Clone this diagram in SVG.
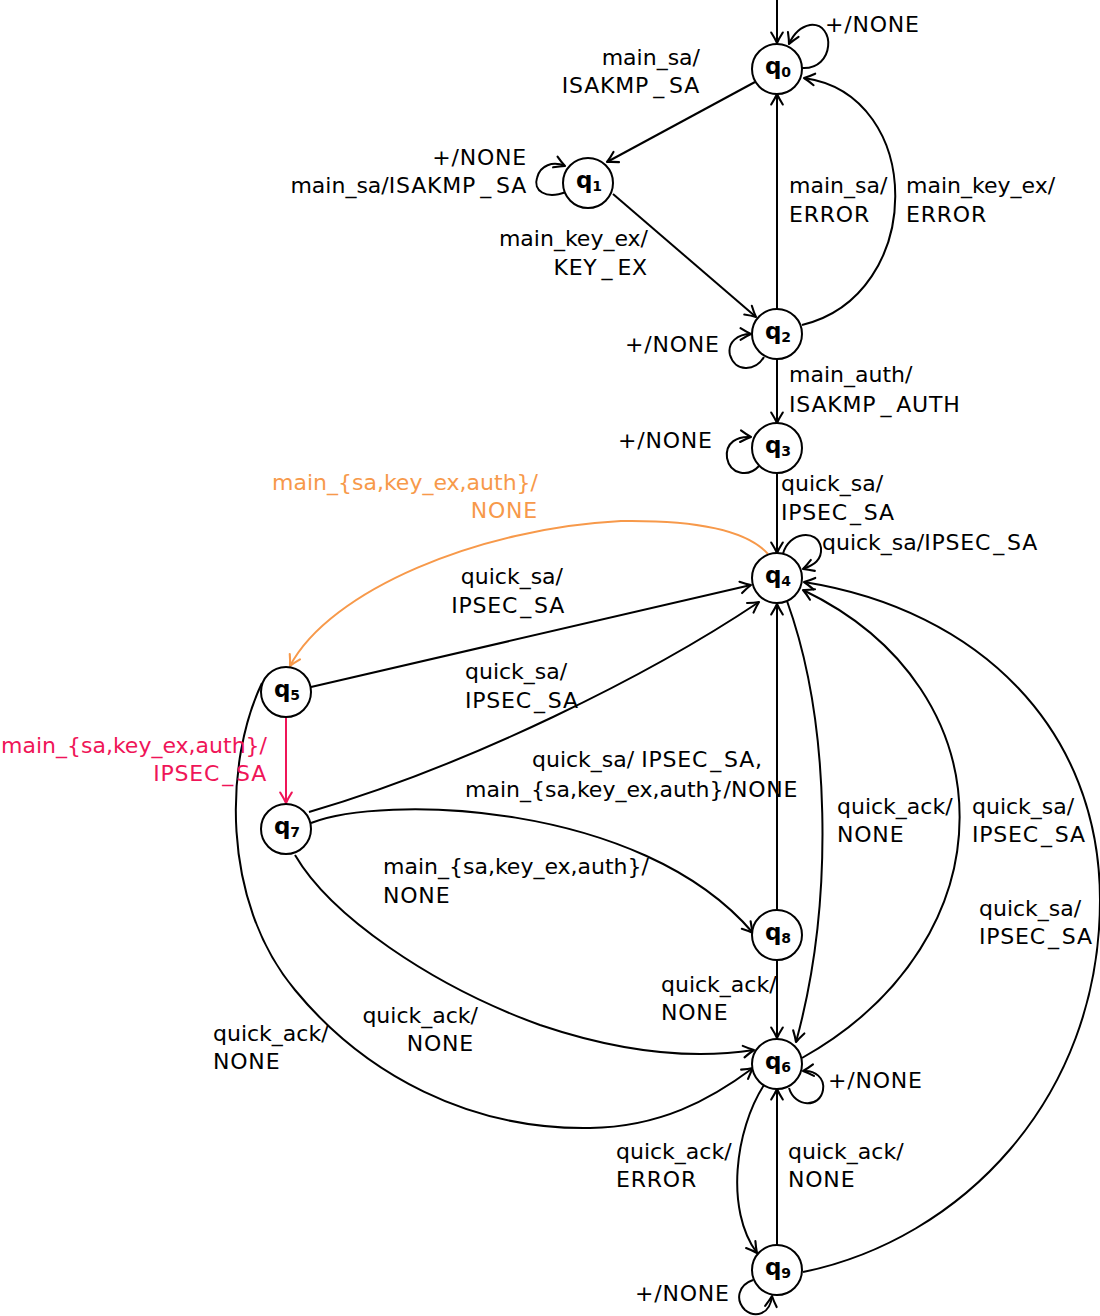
<svg xmlns="http://www.w3.org/2000/svg" width="1100" height="1316" viewBox="0 0 1100 1316">
  <defs>
    <marker id="ar" viewBox="0 0 16 16" markerWidth="16" markerHeight="16" refX="13" refY="8" orient="auto" markerUnits="userSpaceOnUse">
      <path d="M2.5,2.2 Q8.5,6 13,8 Q8.5,10 2.5,13.8" fill="none" stroke="#000" stroke-width="2.1" stroke-linecap="round" stroke-linejoin="round"/>
    </marker>
    <marker id="ar-or" viewBox="0 0 16 16" markerWidth="16" markerHeight="16" refX="13" refY="8" orient="auto" markerUnits="userSpaceOnUse">
      <path d="M2.5,2.2 Q8.5,6 13,8 Q8.5,10 2.5,13.8" fill="none" stroke="#f7994a" stroke-width="2.1" stroke-linecap="round" stroke-linejoin="round"/>
    </marker>
    <marker id="ar-rd" viewBox="0 0 16 16" markerWidth="16" markerHeight="16" refX="13" refY="8" orient="auto" markerUnits="userSpaceOnUse">
      <path d="M2.5,2.2 Q8.5,6 13,8 Q8.5,10 2.5,13.8" fill="none" stroke="#ef1558" stroke-width="2.1" stroke-linecap="round" stroke-linejoin="round"/>
    </marker>
  </defs>
  <style>
    .node circle { fill: #fff; stroke: #000; stroke-width: 2; }
    .node text { font-family: "DejaVu Sans", sans-serif; font-weight: bold; font-size: 23px; fill: #000; text-anchor: middle; }
    .node .sub { font-size: 14px; }
    #edges path { fill: none; stroke: #000; stroke-width: 2; marker-end: url(#ar); }
    #edges path.or { stroke: #f7994a; marker-end: url(#ar-or); }
    #edges path.rd { stroke: #ef1558; marker-end: url(#ar-rd); }
    .lbl { font-family: "DejaVu Sans", sans-serif; font-size: 22px; fill: #000; }
    .end { text-anchor: end; }
    .uc { letter-spacing: 0.8px; }
    .lbl.or { fill: #f7994a; }
    .lbl.rd { fill: #ef1558; }
  </style>

  <rect width="1100" height="1316" fill="#fff"/>

  <!-- transitions -->
  <g id="edges">
    <path d="M777,0 L777,43"/>
    <!-- q0 -->
    <path d="M802,68 C835,70 836,22 810,25 C800,27 793,35 789,44"/>
    <path d="M755,82 L607,162"/>
    <!-- q1 -->
    <path d="M566,192 C545,200 533,190 537,178 C540,165 553,161 565,166"/>
    <path d="M613,194 L756,317"/>
    <!-- q2 -->
    <path d="M764,357 C755,372 735,372 730,355 C727,342 738,334 751,334"/>
    <path d="M777,309 L777,94"/>
    <path d="M802,325 C926,295 926,95 804,78"/>
    <path d="M777,359 L777,423"/>
    <!-- q3 -->
    <path d="M759,466 C748,478 730,474 727,458 C725,442 738,436 751,437"/>
    <path d="M777,474 L777,553"/>
    <!-- q4 -->
    <path d="M783,554 C788,532 818,528 821,548 C822,560 814,565 803,569"/>
    <path class="or" d="M768,554 C745,528 690,520 621,521 C480,528 330,590 290,666"/>
    <!-- q5 -->
    <path d="M311,687 L751,585"/>
    <path class="rd" d="M286,717 L286,803"/>
    <path d="M262,683 C225,760 220,900 295,990 C365,1075 470,1130 590,1128 C660,1127 710,1100 753,1068"/>
    <!-- q7 -->
    <path d="M309,812 C470,765 650,675 759,602"/>
    <path d="M311,823 C380,795 640,800 753,933"/>
    <path d="M295,855 C330,915 430,985 540,1025 C620,1052 690,1060 754,1050"/>
    <!-- q8 -->
    <path d="M777,910 L777,604"/>
    <path d="M777,960 L777,1038"/>
    <!-- q4 / q6 -->
    <path d="M787,601 C830,720 835,900 796,1042"/>
    <path d="M802,1058 C1012,940 1012,690 803,590"/>
    <!-- q6 -->
    <path d="M789,1088 C795,1108 820,1108 823,1090 C825,1078 815,1070 803,1071"/>
    <path d="M764,1085 C735,1130 725,1210 757,1253"/>
    <!-- q9 -->
    <path d="M777,1245 L777,1089"/>
    <path d="M803,1272 C960,1240 1100,1100 1100,900 C1100,730 980,610 804,582"/>
    <path d="M753,1280 C738,1285 735,1300 745,1310 C755,1318 770,1315 772,1296"/>
  </g>

  <!-- transition labels -->
  <g id="labels">
    <text class="lbl uc" x="825" y="32">+/NONE</text>
    <text class="lbl end" x="700" y="65">main_sa/</text>
    <text class="lbl end uc" x="700" y="93">ISAKMP<tspan dx="4">_</tspan><tspan dx="4">SA</tspan></text>
    <text class="lbl end uc" x="527" y="165">+/NONE</text>
    <text class="lbl end" x="527" y="193">main_sa/<tspan class="uc">ISAKMP</tspan><tspan class="uc" dx="4">_</tspan><tspan class="uc" dx="4">SA</tspan></text>
    <text class="lbl end" x="648" y="246">main_key_ex/</text>
    <text class="lbl end uc" x="648" y="275">KEY<tspan dx="4">_</tspan><tspan dx="4">EX</tspan></text>
    <text class="lbl uc" x="625" y="352">+/NONE</text>
    <text class="lbl" x="789" y="193">main_sa/</text>
    <text class="lbl uc" x="789" y="222">ERROR</text>
    <text class="lbl" x="906" y="193">main_key_ex/</text>
    <text class="lbl uc" x="906" y="222">ERROR</text>
    <text class="lbl" x="789" y="382">main_auth/</text>
    <text class="lbl uc" x="789" y="412">ISAKMP<tspan dx="4">_</tspan><tspan dx="4">AUTH</tspan></text>
    <text class="lbl uc" x="618" y="448">+/NONE</text>
    <text class="lbl" x="781" y="491">quick_sa/</text>
    <text class="lbl uc" x="781" y="520">IPSEC<tspan dx="2">_</tspan><tspan dx="2">SA</tspan></text>
    <text class="lbl" x="822" y="550">quick_sa/<tspan class="uc">IPSEC</tspan><tspan class="uc" dx="2">_</tspan><tspan class="uc" dx="2">SA</tspan></text>
    <text class="lbl or end" x="538" y="490">main_{sa,key_ex,auth}/</text>
    <text class="lbl or end uc" x="538" y="518">NONE</text>
    <text class="lbl end" x="563" y="584">quick_sa/</text>
    <text class="lbl end uc" x="565" y="613">IPSEC<tspan dx="2">_</tspan><tspan dx="2">SA</tspan></text>
    <text class="lbl" x="465" y="679">quick_sa/</text>
    <text class="lbl uc" x="465" y="708">IPSEC<tspan dx="2">_</tspan><tspan dx="2">SA</tspan></text>
    <text class="lbl rd end" x="267" y="753">main_{sa,key_ex,auth}/</text>
    <text class="lbl rd end uc" x="267" y="781">IPSEC<tspan dx="2">_</tspan><tspan dx="2">SA</tspan></text>
    <text class="lbl" x="532" y="767">quick_sa/ <tspan class="uc">IPSEC</tspan><tspan class="uc" dx="2">_</tspan><tspan class="uc" dx="2">SA,</tspan></text>
    <text class="lbl" x="465" y="797">main_{sa,key_ex,auth}/<tspan class="uc">NONE</tspan></text>
    <text class="lbl" x="837" y="814">quick_ack/</text>
    <text class="lbl uc" x="837" y="842">NONE</text>
    <text class="lbl" x="972" y="814">quick_sa/</text>
    <text class="lbl uc" x="972" y="842">IPSEC<tspan dx="2">_</tspan><tspan dx="2">SA</tspan></text>
    <text class="lbl" x="383" y="874">main_{sa,key_ex,auth}/</text>
    <text class="lbl uc" x="383" y="903">NONE</text>
    <text class="lbl" x="979" y="916">quick_sa/</text>
    <text class="lbl uc" x="979" y="944">IPSEC<tspan dx="2">_</tspan><tspan dx="2">SA</tspan></text>
    <text class="lbl" x="661" y="992">quick_ack/</text>
    <text class="lbl uc" x="661" y="1020">NONE</text>
    <text class="lbl end" x="478" y="1023">quick_ack/</text>
    <text class="lbl end uc" x="474" y="1051">NONE</text>
    <text class="lbl" x="213" y="1041">quick_ack/</text>
    <text class="lbl uc" x="213" y="1069">NONE</text>
    <text class="lbl uc" x="828" y="1088">+/NONE</text>
    <text class="lbl" x="616" y="1159">quick_ack/</text>
    <text class="lbl uc" x="616" y="1187">ERROR</text>
    <text class="lbl" x="788" y="1159">quick_ack/</text>
    <text class="lbl uc" x="788" y="1187">NONE</text>
    <text class="lbl uc" x="635" y="1301">+/NONE</text>
  </g>

  <!-- states -->
  <g id="q0" class="node"><circle cx="777" cy="69" r="25"/><text x="778" y="74">q<tspan class="sub" dy="3">0</tspan></text></g>
  <g id="q1" class="node"><circle cx="588" cy="183" r="25"/><text x="589" y="188">q<tspan class="sub" dy="3">1</tspan></text></g>
  <g id="q2" class="node"><circle cx="777" cy="334" r="25"/><text x="778" y="339">q<tspan class="sub" dy="3">2</tspan></text></g>
  <g id="q3" class="node"><circle cx="777" cy="448" r="25"/><text x="778" y="453">q<tspan class="sub" dy="3">3</tspan></text></g>
  <g id="q4" class="node"><circle cx="777" cy="578" r="25"/><text x="778" y="583">q<tspan class="sub" dy="3">4</tspan></text></g>
  <g id="q5" class="node"><circle cx="286" cy="692" r="25"/><text x="287" y="697">q<tspan class="sub" dy="3">5</tspan></text></g>
  <g id="q7" class="node"><circle cx="286" cy="829" r="25"/><text x="287" y="834">q<tspan class="sub" dy="3">7</tspan></text></g>
  <g id="q8" class="node"><circle cx="777" cy="935" r="25"/><text x="778" y="940">q<tspan class="sub" dy="3">8</tspan></text></g>
  <g id="q6" class="node"><circle cx="777" cy="1064" r="25"/><text x="778" y="1069">q<tspan class="sub" dy="3">6</tspan></text></g>
  <g id="q9" class="node"><circle cx="777" cy="1270" r="25"/><text x="778" y="1275">q<tspan class="sub" dy="3">9</tspan></text></g>
</svg>
